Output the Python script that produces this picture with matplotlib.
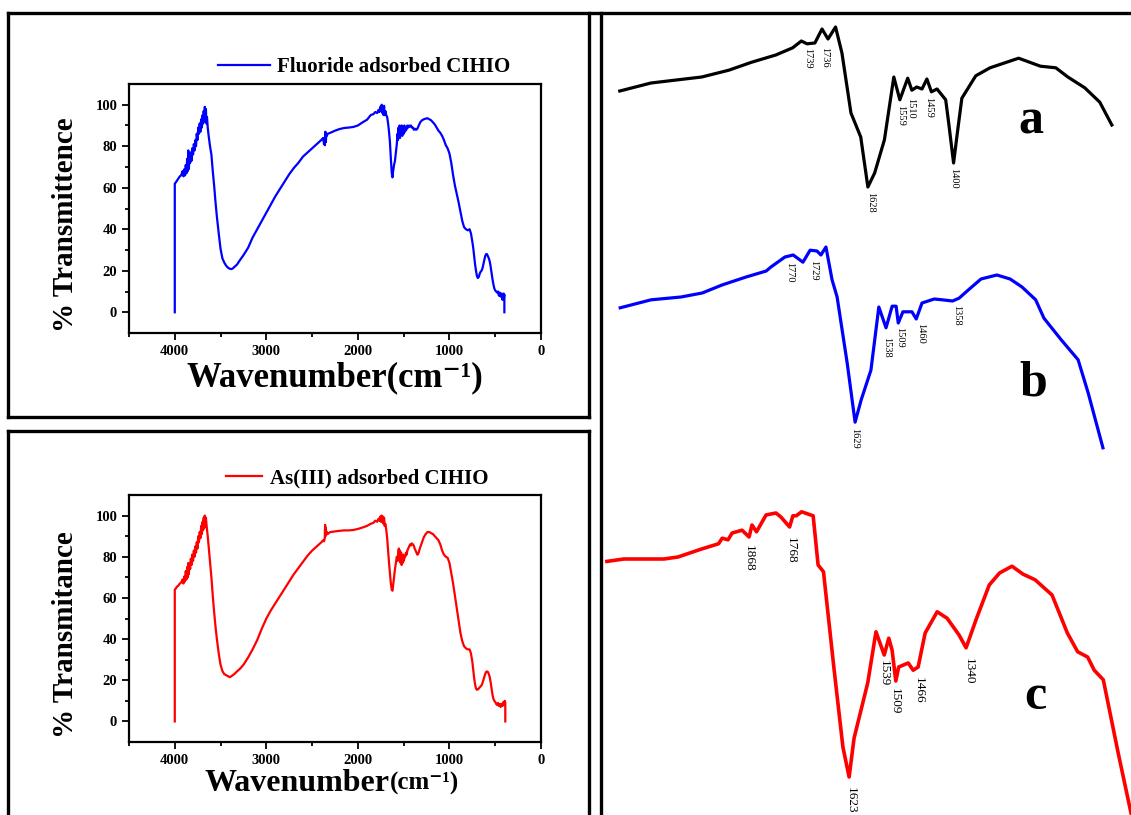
import numpy as np
import matplotlib.pyplot as plt
from matplotlib.lines import Line2D

plt.rcParams['font.family'] = ['Liberation Serif', 'DejaVu Serif']
plt.rcParams['mathtext.fontset'] = 'stix'

W, H = 1131, 815

# ---- left panels: full FTIR spectra (wavenumber, %T) ----
wn_f = [4000, 4000, 3990, 3975, 3960, 3945, 3930, 3915, 3905, 3895,
        3888, 3880, 3872, 3865, 3858, 3852, 3846, 3840, 3832, 3825,
        3817, 3810, 3800, 3792, 3784, 3776, 3768, 3760, 3752, 3744,
        3736, 3728, 3720, 3712, 3704, 3696, 3690, 3684, 3678, 3672,
        3666, 3660, 3654, 3648, 3640, 3630, 3615, 3600, 3585, 3570,
        3555, 3540, 3520, 3500, 3480, 3460, 3440, 3420, 3400, 3385,
        3370, 3350, 3320, 3290, 3250, 3200, 3150, 3100, 3050, 3000,
        2950, 2900, 2850, 2800, 2750, 2700, 2650, 2600, 2550, 2500,
        2450, 2400, 2380, 2370, 2365, 2360, 2355, 2350, 2345, 2340,
        2330, 2300, 2250, 2200, 2150, 2100, 2050, 2000, 1950, 1900,
        1860, 1830, 1810, 1790, 1775, 1765, 1755, 1748, 1740, 1733,
        1727, 1720, 1714, 1708, 1700, 1690, 1680, 1670, 1660, 1650,
        1640, 1630, 1622, 1615, 1605, 1595, 1585, 1575, 1568, 1562,
        1556, 1550, 1545, 1540, 1535, 1528, 1522, 1515, 1508, 1500,
        1492, 1485, 1478, 1470, 1460, 1450, 1440, 1430, 1420, 1410,
        1400, 1390, 1380, 1370, 1360, 1350, 1340, 1330, 1320, 1300,
        1280, 1260, 1240, 1220, 1200, 1180, 1160, 1140, 1120, 1100,
        1080, 1060, 1040, 1020, 1000, 980, 960, 940, 920, 900,
        880, 860, 840, 820, 800, 780, 765, 750, 740, 730,
        720, 710, 700, 690, 680, 670, 660, 650, 640, 630,
        620, 610, 600, 590, 580, 570, 560, 550, 540, 530,
        520, 510, 500, 490, 480, 470, 460, 450, 440, 430,
        420, 410, 405, 400, 400]
t_f = [0, 62, 62.5, 63.5, 64.5, 65.5, 66, 68, 65.5, 69,
       66, 71, 67, 74, 68, 78, 69, 75, 72, 77,
       73, 79, 76, 81, 78, 83, 80, 86, 83, 89,
       86, 91, 87, 93, 89, 95, 91, 97, 92, 99,
       93, 98, 91, 94, 89, 85, 80, 76, 68, 61,
       53, 46, 38, 30.5, 26, 24, 22.5, 21.5, 21, 20.8,
       21, 21.8, 23, 25, 27.5, 31, 36, 40, 44, 48,
       52, 56, 59.5, 63, 66.5, 69.5, 72, 75, 77, 79,
       81, 83, 84, 81, 84, 80.5, 87, 82, 86, 85,
       86, 86.5, 87.5, 88.3, 88.8, 89, 89.3, 90, 91.5, 92.8,
       95, 95.5, 96.5, 96, 97.5, 96.5, 99, 97, 100, 96,
       99, 95, 99.5, 95, 97, 95, 94, 91, 87, 82,
       74, 67, 65, 68, 71, 73, 77, 81, 86, 83,
       89, 85, 90, 84, 89, 86, 90, 85, 89, 86,
       90, 87, 89, 88, 90, 89, 90, 89.5, 90, 89,
       89, 88, 88.5, 88, 88, 88.5, 89.5, 90.5, 91.5, 92.5,
       93, 93.3, 93.5, 93, 92.5, 91.5, 90.5, 89, 87.5, 86.5,
       85, 83, 80.5, 79, 76.5, 72, 66, 61, 57, 53,
       48.5, 44, 41, 40, 39.5, 40, 38, 34, 31, 27,
       23, 20, 17.5, 16.5, 17, 18.5, 19.5, 20, 21, 23,
       25, 27, 28, 28, 27, 26, 24.5, 22, 19, 16,
       13.5, 11.5, 10.5, 10, 9.5, 10, 8, 9.5, 7.5, 9,
       6, 9, 7, 8.5, 0]

wn_as = [4000, 4000, 3990, 3975, 3960, 3945, 3930, 3915, 3905, 3895,
         3888, 3880, 3872, 3865, 3858, 3852, 3846, 3840, 3832, 3825,
         3817, 3810, 3800, 3792, 3784, 3776, 3768, 3760, 3752, 3744,
         3736, 3728, 3720, 3712, 3704, 3696, 3690, 3684, 3678, 3672,
         3666, 3660, 3650, 3640, 3630, 3615, 3600, 3585, 3570, 3555,
         3540, 3520, 3500, 3480, 3460, 3440, 3420, 3400, 3380, 3350,
         3320, 3290, 3250, 3200, 3150, 3100, 3050, 3000, 2950, 2900,
         2850, 2800, 2750, 2700, 2650, 2600, 2550, 2500, 2450, 2400,
         2380, 2370, 2362, 2358, 2354, 2350, 2345, 2340, 2330, 2320,
         2300, 2250, 2200, 2150, 2100, 2050, 2000, 1950, 1900, 1860,
         1830, 1810, 1790, 1775, 1765, 1755, 1748, 1740, 1733, 1727,
         1720, 1714, 1708, 1700, 1690, 1680, 1670, 1660, 1650, 1640,
         1630, 1622, 1615, 1605, 1595, 1585, 1575, 1565, 1558, 1552,
         1546, 1540, 1534, 1528, 1522, 1516, 1510, 1504, 1498, 1490,
         1482, 1475, 1468, 1460, 1450, 1440, 1430, 1420, 1410, 1400,
         1390, 1380, 1370, 1360, 1350, 1340, 1330, 1320, 1300, 1280,
         1260, 1240, 1220, 1200, 1180, 1160, 1140, 1120, 1100, 1080,
         1060, 1040, 1020, 1000, 980, 960, 940, 920, 900, 880,
         860, 840, 820, 800, 780, 765, 750, 740, 730, 720,
         710, 700, 690, 680, 670, 660, 650, 640, 630, 620,
         610, 600, 590, 580, 570, 560, 550, 540, 530, 520,
         510, 500, 490, 480, 470, 460, 450, 440, 430, 420,
         410, 400, 395, 390, 390]
t_as = [0, 64, 64.5, 65.5, 66, 67, 67.5, 69, 67, 70.5,
        68, 73, 69, 75, 70, 77, 71.5, 77, 74, 79,
        76, 81, 78, 83, 80, 85, 82, 87, 84, 90,
        87, 92, 89, 95, 91, 97, 93, 99, 94, 100,
        95, 99, 94, 90, 85, 78, 70, 61, 53, 46,
        40, 33, 27.5, 24.5, 23, 22.5, 22, 21.5, 22, 23,
        24.3, 25.5, 27.5, 31, 35, 39.5, 45, 50, 54, 57.5,
        61, 64.5, 68, 71.5, 74.5, 77.5, 80.5, 83, 85, 87,
        88, 87.5, 89, 95.5, 90, 94, 91, 92, 91, 91.5,
        92, 92.3, 92.6, 92.8, 92.8, 93, 93.5, 94.2, 95, 96,
        96.5, 97.5, 97, 98.5, 97.5, 99.5, 97, 100, 97, 99.5,
        96, 99, 95, 96, 93, 89, 83, 77, 72, 67,
        64, 63.5, 66, 70, 74, 77, 80, 78, 83, 84,
        79, 83, 77, 82, 76, 79, 77, 81, 78, 80,
        80, 82, 81, 83, 84, 85, 86, 85.5, 86.5, 86,
        85.5, 84, 83, 82, 81, 81.5, 83, 84.5, 87, 89.5,
        91, 92, 92, 91.5, 91, 90, 89, 88, 86, 83,
        81, 80, 79.5, 77, 72, 67, 61, 55, 49, 43,
        39, 36.5, 35.5, 35, 35, 33, 29, 25, 21, 18,
        16, 15.4, 15.5, 16, 16.5, 17, 17.5, 18.5, 20, 21.5,
        23, 24, 24.3, 24, 23, 21.5, 19, 16, 13, 11,
        10, 9.5, 8.5, 8, 9, 7.5, 8.5, 7, 8.5, 7.5,
        9.5, 8, 10, 9, 0]

# ---- right panel: zoomed spectra a, b, c (wavenumber, offset %T) ----
a_wn = [2288, 2205, 2070, 1998, 1937, 1873, 1828, 1805, 1790, 1769,
        1750, 1734, 1714, 1697, 1673, 1647, 1628, 1610, 1584, 1559,
        1543, 1522, 1511, 1498, 1484, 1471, 1459, 1444, 1421, 1413,
        1400, 1390, 1378, 1341, 1303, 1227, 1169, 1128, 1096, 1051,
        1011, 979]
a_t = [90.5, 91.5, 92.25, 93.1, 94.1, 95.0, 95.9, 96.75, 96.4, 96.5,
       98.25, 97.0, 98.5, 95.25, 87.75, 84.75, 78.5, 80.25, 84.4, 92.25,
       89.4, 92.1, 90.6, 91.0, 90.75, 92.0, 90.4, 90.75, 89.4, 86.5,
       81.5, 85.25, 89.6, 92.4, 93.4, 94.6, 93.6, 93.4, 92.25, 90.9,
       89.1, 86.25]

b_wn = [2282, 2196, 2113, 2054, 1999, 1932, 1876, 1863, 1824, 1801,
        1774, 1754, 1735, 1724, 1710, 1693, 1679, 1651, 1629, 1612,
        1585, 1563, 1543, 1526, 1515, 1509, 1496, 1471, 1459, 1443,
        1409, 1387, 1358, 1340, 1315, 1279, 1235, 1198, 1165, 1127,
        1104, 1056, 1009, 981, 940]
b_t = [63.4, 64.4, 64.75, 65.25, 66.25, 67.25, 68.0, 68.5, 69.75, 70.0,
       69.1, 70.6, 70.5, 70.0, 71.0, 66.9, 64.75, 56.5, 49.1, 51.9,
       55.6, 63.5, 60.9, 63.6, 63.6, 61.5, 62.9, 62.9, 62.0, 64.0,
       64.5, 64.4, 64.25, 64.6, 65.6, 67.0, 67.5, 67.0, 66.0, 64.4,
       62.1, 59.4, 56.9, 52.75, 45.9]

c_wn = [2209, 2168, 2071, 2037, 1980, 1939, 1930, 1916, 1906, 1882,
        1865, 1858, 1847, 1824, 1800, 1788, 1767, 1759, 1751, 1738,
        1710, 1698, 1685, 1660, 1638, 1623, 1611, 1578, 1558, 1538,
        1527, 1519, 1510, 1503, 1480, 1468, 1456, 1439, 1410, 1386,
        1357, 1340, 1316, 1284, 1259, 1229, 1202, 1173, 1132, 1095,
        1070, 1046, 1030, 1008, 972, 941]
c_t = [31.7, 32.0, 32.0, 32.25, 33.25, 33.9, 34.6, 34.4, 35.25, 35.6,
       34.75, 36.25, 35.4, 37.5, 37.75, 37.25, 36.0, 37.4, 37.4, 37.9,
       37.4, 31.25, 30.4, 18.5, 8.5, 4.75, 9.6, 16.5, 22.9, 20.0,
       22.1, 20.6, 16.75, 18.5, 19.0, 18.1, 18.5, 22.75, 25.4, 24.6,
       22.5, 20.9, 24.4, 28.75, 30.25, 31.1, 30.1, 29.4, 27.5, 22.75,
       20.4, 19.75, 18.1, 16.9, 7.75, 0.25]

a_labels = ['1739', '1736', '1628', '1559', '1510', '1459', '1400']
b_labels = ['1770', '1729', '1629', '1538', '1509', '1460', '1358']
c_labels = ['1868', '1768', '1623', '1539', '1509', '1466', '1340']

# label anchor positions (top of rotated text) in each curve's coordinates
a_lab_x = [1789, 1742, 1620, 1541, 1514, 1466, 1399]
a_lab_y = [95.9, 96.0, 77.9, 88.75, 89.6, 89.75, 80.9]
b_lab_x = [1810, 1744, 1629, 1540, 1504, 1448, 1348]
b_lab_y = [69.1, 69.4, 48.4, 59.75, 61.0, 61.5, 63.75]
c_lab_x = [1865, 1763, 1618, 1538, 1512, 1454, 1334]
c_lab_y = [33.75, 34.75, 3.5, 19.4, 15.9, 17.25, 19.6]


def fx(x):
    return x / W


def fy(y):
    return 1 - y / H


fig = plt.figure(figsize=(W / 100, H / 100), dpi=100)

# frames around the panels
frame_lines = [(8, 13, 1131, 13), (601, 13, 601, 815),
               (8, 13, 8, 417), (8, 417, 589, 417), (589, 13, 589, 417),
               (8, 431, 589, 431), (8, 431, 8, 815), (589, 431, 589, 815)]
for x0, y0, x1, y1 in frame_lines:
    fig.add_artist(Line2D([fx(x0), fx(x1)], [fy(y0), fy(y1)],
                          color='black', lw=2.4, solid_capstyle='projecting'))


def ir_panel(top, bottom, wn, t, color, leg_label, leg_x, hlen, ylab):
    ax = fig.add_axes([fx(129), fy(bottom), (541 - 129) / W, (bottom - top) / H])
    line, = ax.plot(wn, t, color=color, lw=1.6)
    ax.set_xlim(4500, 0)
    ax.set_ylim(-10, 110)
    ax.set_xticks([4000, 3000, 2000, 1000, 0])
    ax.set_xticks([4500, 3500, 2500, 1500, 500], minor=True)
    ax.set_yticks([0, 20, 40, 60, 80, 100])
    ax.set_yticks([10, 30, 50, 70, 90], minor=True)
    ax.tick_params(which='both', direction='out', width=1.3, labelsize=10.5)
    ax.tick_params(which='major', length=5)
    ax.tick_params(which='minor', length=3)
    plt.setp(ax.get_xticklabels() + ax.get_yticklabels(), fontweight='bold')
    for s in ax.spines.values():
        s.set_linewidth(1.6)
    ax.legend([line], [leg_label], loc='center left', bbox_to_anchor=(leg_x, 1.068),
              frameon=False, handlelength=hlen, handletextpad=0.35, borderaxespad=0,
              prop=dict(weight='bold', size=15))
    ax.text(-0.155, 0.435, ylab, transform=ax.transAxes, rotation=90,
            ha='center', va='center', fontsize=21, fontweight='bold')
    return ax


ax1 = ir_panel(84, 333, wn_f, t_f, '#0000ff', 'Fluoride adsorbed CIHIO', 0.195, 2.5,
               '% Transmittence')
ax1.text(0.5, -0.181, 'Wavenumber(cm\u207b\u00b9)', transform=ax1.transAxes,
         ha='center', va='center', fontsize=25, fontweight='bold')

ax2 = ir_panel(495, 742, wn_as, t_as, '#ff0000', 'As(III) adsorbed CIHIO', 0.215, 1.75,
               '% Transmitance')
ax2.text(0.633, -0.166, 'Wavenumber', transform=ax2.transAxes,
         ha='right', va='center', fontsize=23, fontweight='bold')
ax2.text(0.633, -0.166, '(cm\u207b\u00b9)', transform=ax2.transAxes,
         ha='left', va='center', fontsize=18, fontweight='bold')

# right panel: three zoomed spectra, each with its own wavenumber scale
right_rect = [fx(604), 0, (1131 - 604) / W, (815 - 15) / H]
curves = [
    (a_wn, a_t, 'black', (2330, 928), a_labels, a_lab_x, a_lab_y, 7.5, 2.3),
    (b_wn, b_t, '#0000ff', (2327, 862), b_labels, b_lab_x, b_lab_y, 7.5, 2.3),
    (c_wn, c_t, '#ff0000', (2216, 941), c_labels, c_lab_x, c_lab_y, 9.5, 2.6),
]
for wn, t, col, lim, labs, lx, ly, fs, lw in curves:
    ax = fig.add_axes(right_rect)
    ax.plot(wn, t, color=col, lw=lw, solid_joinstyle='round', clip_on=False)
    for s, x, y in zip(labs, lx, ly):
        ax.text(x, y, s, rotation=270, ha='center', va='top', fontsize=fs)
    ax.set_xlim(lim)
    ax.set_ylim(0, 100)
    ax.axis('off')

for s, x, y in [('a', 1031, 133), ('b', 1033, 395), ('c', 1035, 709)]:
    fig.text(fx(x), fy(y), s, ha='center', va='baseline', fontsize=36, fontweight='bold')

fig.savefig('out.png', dpi=100)
